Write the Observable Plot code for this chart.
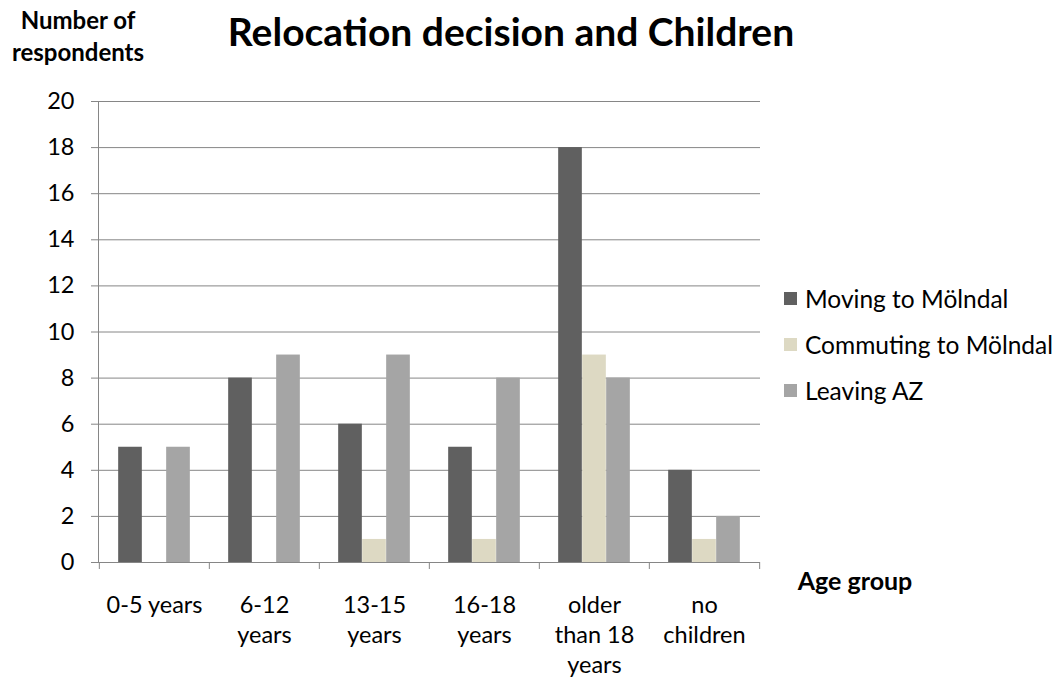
<!DOCTYPE html>
<html>
<head>
<meta charset="utf-8">
<script src="https://cdn.jsdelivr.net/npm/d3@7"></script>
<script src="https://cdn.jsdelivr.net/npm/@observablehq/plot@0.6"></script>
<style>
  html, body { margin: 0; padding: 0; background: #fff; }
  #wrap { position: relative; width: 1058px; height: 682px; font-family: Lato, "Open Sans", sans-serif; color: #000; }
  #chart { position: absolute; left: 0; top: 0; }
  .title { position: absolute; left: 211px; width: 600px; top: 8px; text-align: center; font-weight: bold; font-size: 39px; line-height: 46px; white-space: nowrap; }
  .ylab { position: absolute; left: 0px; width: 156px; top: 4px; text-align: center; font-weight: bold; font-size: 24px; line-height: 32px; white-space: nowrap; }
  .xlab { position: absolute; left: 785px; width: 140px; top: 564px; text-align: center; font-weight: bold; font-size: 25px; line-height: 32px; }
  .legend { position: absolute; left: 784px; top: 275px; font-size: 24.5px; }
  .legend .row { display: flex; align-items: center; height: 46px; white-space: nowrap; }
  .legend .sw { width: 13px; height: 13px; margin-right: 8px; flex: none; }
</style>
</head>
<body>
<div id="wrap">
  <div id="chart"></div>
  <div class="title">Relocation decision and Children</div>
  <div class="ylab">Number of<br>respondents</div>
  <div class="xlab">Age group</div>
  <div class="legend" id="legend"></div>
</div>
<script>
const categories = ["0-5 years", "6-12 years", "13-15 years", "16-18 years", "older than 18 years", "no children"];
const xTickLabels = ["0-5 years", "6-12\nyears", "13-15\nyears", "16-18\nyears", "older\nthan 18\nyears", "no\nchildren"];
const seriesNames = ["Moving to Mölndal", "Commuting to Mölndal", "Leaving AZ"];
const seriesColors = ["#606060", "#ddd9c3", "#a5a5a5"];
const moving = [5, 8, 6, 5, 18, 4];
const commuting = [0, 0, 1, 1, 9, 1];
const leaving = [5, 9, 9, 8, 8, 2];
const yTicks = [0, 2, 4, 6, 8, 10, 12, 14, 16, 18, 20];

const seriesValues = [moving, commuting, leaving];

const W = 1058, H = 682, mL = 98, mR = 298, mT = 101, mB = 120;
const bw = (W - mL - mR) / categories.length;
const barW = 24;
const inset = (bw - barW) / 2;
const gridColor = "#868686";

const barMarks = seriesValues.map((vals, si) =>
  Plot.barY(
    categories.map((c, i) => ({cat: c, value: vals[i]})).filter(d => d.value > 0),
    {x: "cat", y: "value", fill: seriesColors[si], insetLeft: inset, insetRight: inset, dx: (si - 1) * barW}
  )
);

const chart = Plot.plot({
  width: W,
  height: H,
  marginLeft: mL,
  marginRight: mR,
  marginTop: mT,
  marginBottom: mB,
  style: {fontFamily: "Lato, 'Open Sans', sans-serif", fontSize: "23.5px", color: "#000", background: "transparent"},
  x: {type: "band", domain: categories, padding: 0, axis: null},
  y: {domain: [0, 20], axis: null},
  marks: [
    Plot.ruleY(yTicks, {stroke: gridColor, strokeWidth: 1}),
    Plot.frame({anchor: "left", stroke: gridColor}),
    Plot.ruleX(categories, {x: d => d, y1: 0, dx: -bw / 2, insetBottom: -7, stroke: gridColor}),
    Plot.ruleX([categories[categories.length - 1]], {x: d => d, y1: 0, dx: bw / 2, insetBottom: -7, stroke: gridColor}),
    Plot.axisY({ticks: yTicks, tickSize: 7, tickPadding: 17, stroke: gridColor, label: null, fontSize: 23.5}),
    ...barMarks,
    Plot.text(categories, {x: d => d, text: (d, i) => xTickLabels[i], frameAnchor: "bottom", lineAnchor: "top", dy: 29, lineHeight: 1.28, fontSize: 23.5, fill: "#000"})
  ]
});
document.getElementById("chart").appendChild(chart);

const legend = document.getElementById("legend");
seriesNames.forEach((name, i) => {
  const row = document.createElement("div");
  row.className = "row";
  const sw = document.createElement("span");
  sw.className = "sw";
  sw.style.background = seriesColors[i];
  const t = document.createElement("span");
  t.textContent = name;
  row.appendChild(sw);
  row.appendChild(t);
  legend.appendChild(row);
});
</script>
</body>
</html>
